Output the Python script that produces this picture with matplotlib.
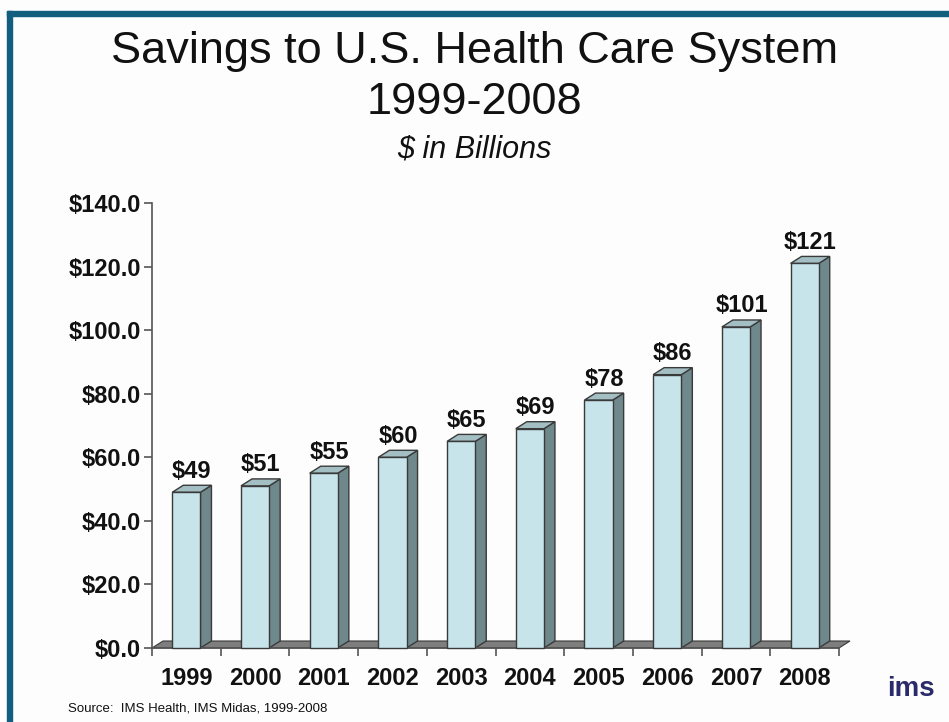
import matplotlib

matplotlib.use("Agg")
import matplotlib.pyplot as plt
from matplotlib.patches import Polygon, Rectangle

years = ["1999", "2000", "2001", "2002", "2003", "2004", "2005", "2006", "2007", "2008"]
savings = [49, 51, 55, 60, 65, 69, 78, 86, 101, 121]
bar_labels = ["$49", "$51", "$55", "$60", "$65", "$69", "$78", "$86", "$101", "$121"]
y_ticks = [0, 20, 40, 60, 80, 100, 120, 140]

FRONT = "#C6E4EA"
SIDE = "#6F888B"
TOP = "#A3BFC3"
EDGE = "#3A3A3A"
FLOOR = "#7E7E7E"
BORDER = "#135E7E"

plt.rcParams["font.family"] = ["Liberation Sans", "DejaVu Sans"]

fig = plt.figure(figsize=(9.49, 7.22), dpi=100, facecolor="#FDFDFD")
ax = fig.add_axes([0.1602, 0.1025, 0.7239, 0.6163])
ax.set_facecolor("none")
ax.set_xlim(0, len(years))
ax.set_ylim(0, 140)

# depth of the fake 3D effect, in data units
dx, dy = 0.16, 2.2
w = 0.41

# floor
ax.add_patch(Polygon([(0, 0), (len(years), 0), (len(years) + dx, dy), (dx, dy)],
                     closed=True, facecolor=FLOOR, edgecolor=EDGE, lw=0.8,
                     clip_on=False, zorder=1))

for i, (v, lab) in enumerate(zip(savings, bar_labels)):
    x0 = i + 0.5 - w / 2
    x1 = i + 0.5 + w / 2
    ax.add_patch(Polygon([(x1, 0), (x1 + dx, dy), (x1 + dx, v + dy), (x1, v)],
                         closed=True, facecolor=SIDE, edgecolor=EDGE, lw=1.0,
                         clip_on=False, zorder=2))
    ax.add_patch(Polygon([(x0, v), (x1, v), (x1 + dx, v + dy), (x0 + dx, v + dy)],
                         closed=True, facecolor=TOP, edgecolor=EDGE, lw=1.0,
                         clip_on=False, zorder=2))
    ax.add_patch(Rectangle((x0, 0), w, v, facecolor=FRONT, edgecolor=EDGE,
                           lw=1.0, clip_on=False, zorder=3))
    ax.text(i + 0.5 + dx / 2, v + dy + 0.8, lab, ha="center", va="bottom",
            fontsize=17, fontweight="bold", color="#111")

for s in ["top", "right"]:
    ax.spines[s].set_visible(False)
ax.spines["left"].set_color("#555")
ax.spines["bottom"].set_color("#555")
ax.spines["left"].set_linewidth(1.2)
ax.spines["bottom"].set_linewidth(1.2)

ax.set_yticks(y_ticks)
ax.set_yticklabels([f"${t:.1f}" for t in y_ticks], fontsize=17,
                   fontweight="bold", color="#111")
ax.set_xticks(range(len(years) + 1))
ax.set_xticklabels([])
ax.set_xticks([i + 0.5 for i in range(len(years))], minor=True)
ax.set_xticklabels(years, minor=True, fontsize=17, fontweight="bold",
                   color="#111")
ax.tick_params(axis="x", which="minor", length=0, pad=14)
ax.tick_params(axis="x", which="major", length=6, color="#555", width=1.2)
ax.tick_params(axis="y", length=6, color="#555", width=1.2, pad=2)

fig.text(0.5, 0.929, "Savings to U.S. Health Care System", ha="center",
         va="center", fontsize=32.5, color="#111")
fig.text(0.5, 0.858, "1999-2008", ha="center", va="center", fontsize=32.5,
         color="#111")
fig.text(0.5, 0.793, "$ in Billions", ha="center", va="center", fontsize=22,
         style="italic", color="#111")
fig.text(0.0717, 0.019, "Source:  IMS Health, IMS Midas, 1999-2008",
         ha="left", va="center", fontsize=9.5, color="#111")
fig.text(0.96, 0.046, "ims", ha="center", va="center", fontsize=20,
         fontweight="bold", color="#2B2A6A")

# frame lines
fig.patches.append(Rectangle((7 / 949, 1 - 16 / 722), 1, 5 / 722,
                             transform=fig.transFigure, color=BORDER, zorder=0))
fig.patches.append(Rectangle((7 / 949, 0), 5 / 949, 1 - 11 / 722,
                             transform=fig.transFigure, color=BORDER, zorder=0))

fig.savefig("out.png", dpi=100, facecolor=fig.get_facecolor())
